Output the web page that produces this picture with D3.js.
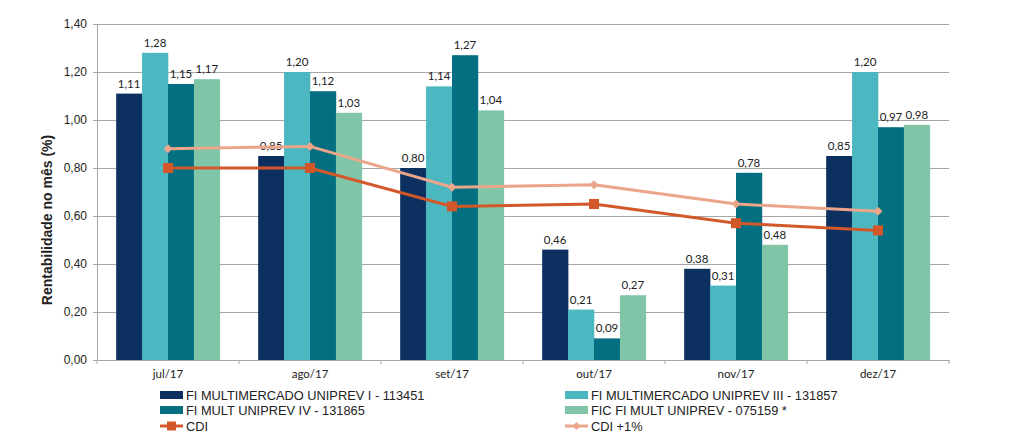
<!DOCTYPE html>
<html><head><meta charset="utf-8">
<script src="https://cdn.jsdelivr.net/npm/d3@7"></script>
<style>
body{margin:0;background:#fff;}
svg{display:block;}
</style></head>
<body><svg id="c" width="1024" height="441"></svg>
<script>
const categories = ["jul/17","ago/17","set/17","out/17","nov/17","dez/17"];
const seriesNames = ["FI MULTIMERCADO UNIPREV I - 113451","FI MULTIMERCADO UNIPREV III - 131857","FI MULT UNIPREV IV - 131865","FIC FI MULT UNIPREV - 075159 *"];
const s1 = [1.11,0.85,0.80,0.46,0.38,0.85];
const s2 = [1.28,1.20,1.14,0.21,0.31,1.20];
const s3 = [1.15,1.12,1.27,0.09,0.78,0.97];
const s4 = [1.17,1.03,1.04,0.27,0.48,0.98];
const cdi = [0.80,0.80,0.64,0.65,0.57,0.54];
const cdi1 = [0.88,0.89,0.72,0.73,0.65,0.62];
const yTicks = [0,0.2,0.4,0.6,0.8,1.0,1.2,1.4];
const lineNames = ["CDI","CDI +1%"];

const barColors = ["#0c3060","#4bb7c0","#036f80","#81c5a8"];
const cdiColor = "#d2582a", cdi1Color = "#eba58a";
const fmt = v => v.toFixed(2).replace(".", ",");

const svg = d3.select("#c");
const L = 97, R = 949, T = 24, B = 360;
const x = d3.scaleBand().domain(categories).range([L,R]).paddingInner(0.27).paddingOuter(0.135);
const xc = d3.scaleBand().domain(categories).range([L,R]);
const y = d3.scaleLinear().domain([0,1.4]).range([B,T]);
const xs = d3.scaleBand().domain(d3.range(4)).range([0,x.bandwidth()]);

// gridlines
svg.append("g").selectAll("line").data(yTicks.slice(1)).join("line")
  .attr("x1",L-3).attr("x2",R).attr("y1",d=>y(d)).attr("y2",d=>y(d))
  .attr("stroke","#a6a6a6").attr("stroke-width",1).attr("shape-rendering","crispEdges");

// y axis
const ya = svg.append("g").attr("transform",`translate(${L},0)`)
  .call(d3.axisLeft(y).tickValues(yTicks).tickFormat(fmt).tickSize(4).tickPadding(6));
ya.select(".domain").attr("stroke","#a6a6a6");
ya.selectAll(".tick line").attr("stroke","#a6a6a6");
ya.selectAll("text").attr("font-family","Liberation Sans, Arial").attr("font-size","12px").attr("fill","#222");

// bars
const all = [s1,s2,s3,s4];
const g = svg.append("g");
all.forEach((s,i)=>{
  g.selectAll(null).data(s).join("rect")
   .attr("x",(d,j)=>x(categories[j])+xs(i))
   .attr("width",xs.bandwidth()+0.3)
   .attr("y",d=>y(d)).attr("height",d=>B-y(d))
   .attr("fill",barColors[i]);
});
all.forEach((s,i)=>{
  g.selectAll(null).data(s).join("text")
   .attr("x",(d,j)=>x(categories[j])+xs(i)+xs.bandwidth()/2)
   .attr("y",d=>y(d)-6)
   .attr("text-anchor","middle")
   .attr("font-family","Lato, Open Sans, sans-serif").attr("font-size","11.5px").attr("fill","#222")
   .text(fmt);
});

// x axis
const xa = svg.append("g").attr("transform",`translate(0,${B})`)
  .call(d3.axisBottom(xc).tickSize(0).tickPadding(10));
xa.select(".domain").attr("stroke","#a6a6a6");
xa.selectAll("text").attr("font-family","Lato, Open Sans, sans-serif").attr("font-size","11.5px").attr("fill","#222");
svg.append("g").selectAll("line").data(d3.range(7)).join("line")
  .attr("x1",d=>L+d*xc.step()).attr("x2",d=>L+d*xc.step())
  .attr("y1",B).attr("y2",B+4).attr("stroke","#a6a6a6");

// lines
const lineGen = d3.line().x((d,j)=>xc(categories[j])+xc.bandwidth()/2).y(d=>y(d));
svg.append("path").datum(cdi1).attr("d",lineGen).attr("fill","none").attr("stroke",cdi1Color).attr("stroke-width",3);
svg.append("g").selectAll("path").data(cdi1).join("path")
  .attr("d",d3.symbol(d3.symbolDiamond2,50)())
  .attr("transform",(d,j)=>`translate(${xc(categories[j])+xc.bandwidth()/2},${y(d)})`)
  .attr("fill",cdi1Color);
svg.append("path").datum(cdi).attr("d",lineGen).attr("fill","none").attr("stroke",cdiColor).attr("stroke-width",3);
svg.append("g").selectAll("rect").data(cdi).join("rect")
  .attr("x",(d,j)=>xc(categories[j])+xc.bandwidth()/2-5).attr("y",d=>y(d)-5)
  .attr("width",10).attr("height",10).attr("fill",cdiColor);

// y title
svg.append("text").attr("transform","translate(52,220) rotate(-90)")
  .attr("text-anchor","middle").attr("font-family","Liberation Sans, Arial")
  .attr("font-weight","bold").attr("font-size","14px").attr("fill","#222")
  .text("Rentabilidade no mês (%)");

// legend
const lg = svg.append("g").attr("font-family","Liberation Sans, Arial").attr("font-size","12.8px").attr("fill","#222");
const legItems = [
  {n:seriesNames[0],t:"bar",c:barColors[0],col:0,row:0},
  {n:seriesNames[1],t:"bar",c:barColors[1],col:1,row:0},
  {n:seriesNames[2],t:"bar",c:barColors[2],col:0,row:1},
  {n:seriesNames[3],t:"bar",c:barColors[3],col:1,row:1},
  {n:lineNames[0],t:"cdi",c:cdiColor,col:0,row:2},
  {n:lineNames[1],t:"cdi1",c:cdi1Color,col:1,row:2}
];
const colX = [160,565], rowY = [395,410,426];
legItems.forEach(it=>{
  const x0 = colX[it.col], yc = rowY[it.row];
  if(it.t==="bar"){
    lg.append("rect").attr("x",x0).attr("y",yc-4).attr("width",23).attr("height",8).attr("fill",it.c);
  } else {
    lg.append("line").attr("x1",x0).attr("x2",x0+23).attr("y1",yc).attr("y2",yc).attr("stroke",it.c).attr("stroke-width",3);
    if(it.t==="cdi") lg.append("rect").attr("x",x0+7).attr("y",yc-4.5).attr("width",9).attr("height",9).attr("fill",it.c);
    else lg.append("path").attr("d",d3.symbol(d3.symbolDiamond2,40)()).attr("transform",`translate(${x0+11.5},${yc})`).attr("fill",it.c);
  }
  lg.append("text").attr("x",x0+26).attr("y",yc+5).text(it.n);
});
</script></body></html>
